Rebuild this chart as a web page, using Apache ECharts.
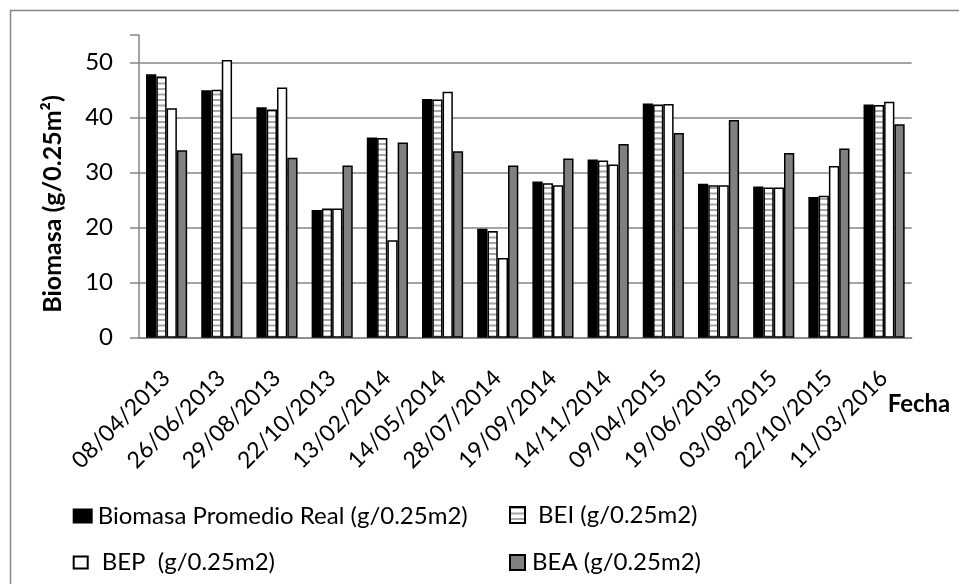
<!DOCTYPE html>
<html>
<head>
<meta charset="utf-8">
<script src="https://cdn.jsdelivr.net/npm/echarts@6/dist/echarts.min.js"></script>
<style>
html,body{margin:0;padding:0;background:#fff;}
#chart{width:959px;height:584px;}
</style>
</head>
<body>
<div id="chart"></div>
<script>
const categories = ['08/04/2013','26/06/2013','29/08/2013','22/10/2013','13/02/2014','14/05/2014','28/07/2014','19/09/2014','14/11/2014','09/04/2015','19/06/2015','03/08/2015','22/10/2015','11/03/2016'];
const realValues = [47.9, 45.0, 41.9, 23.2, 36.4, 43.4, 19.8, 28.4, 32.4, 42.6, 28.0, 27.5, 25.6, 42.4];
const beiValues  = [47.5, 45.1, 41.5, 23.5, 36.3, 43.3, 19.4, 28.1, 32.2, 42.4, 27.7, 27.3, 25.8, 42.3];
const bepValues  = [41.7, 50.5, 45.5, 23.5, 17.7, 44.7, 14.5, 27.7, 31.5, 42.5, 27.7, 27.3, 31.2, 42.9];
const beaValues  = [34.1, 33.5, 32.7, 31.3, 35.5, 33.9, 31.3, 32.6, 35.2, 37.2, 39.6, 33.6, 34.4, 38.8];
const yTicks = [0, 10, 20, 30, 40, 50];
const seriesNames = ['Biomasa Promedio Real (g/0.25m2)', 'BEI (g/0.25m2)', 'BEP  (g/0.25m2)', 'BEA (g/0.25m2)'];

const FONT = 'Lato, "Open Sans", sans-serif';

// striped fill for BEI
const pc = document.createElement('canvas');
pc.width = 4; pc.height = 11;
const pctx = pc.getContext('2d');
pctx.fillStyle = '#ffffff';
pctx.fillRect(0, 0, 4, 11);
pctx.fillStyle = '#a6a6a6';
pctx.fillRect(0, 0, 4, 2);
pctx.fillRect(0, 5.5, 4, 2);
const stripe = { image: pc, repeat: 'repeat' };

const chart = echarts.init(document.getElementById('chart'), null, { renderer: 'canvas' });

function legendAt(name, left, top, w, h, padLeft) {
  return {
    data: [name], left: left, top: top, padding: 0,
    itemWidth: w, itemHeight: h, icon: 'rect', selectedMode: false,
    textStyle: { fontFamily: FONT, fontSize: 24, color: '#000', padding: [0, 0, 0, padLeft], lineHeight: 28 }
  };
}

const option = {
  backgroundColor: '#fff',
  animation: false,
  grid: { left: 139, right: 47.3, top: 35.2, bottom: 246.3, containLabel: false },
  legend: [
    legendAt(seriesNames[0], 72.7, 502, 20, 15, 0),
    legendAt(seriesNames[1], 509, 501, 15, 16, 8),
    legendAt(seriesNames[2], 72.7, 548.5, 14, 12, 9),
    legendAt(seriesNames[3], 509, 548.5, 15, 15, 2)
  ],
  xAxis: {
    type: 'category',
    data: categories,
    axisLine: { show: true, lineStyle: { color: '#868686', width: 1.5 } },
    axisTick: { show: false },
    axisLabel: {
      rotate: 45, interval: 0, margin: 20, align: 'right', verticalAlign: 'top',
      padding: [0, 12, 0, 0],
      fontFamily: FONT, fontSize: 23, color: '#000'
    },
    splitLine: { show: false }
  },
  yAxis: {
    type: 'value', min: 0, max: 55, interval: 10,
    axisLine: { show: true, lineStyle: { color: '#868686', width: 1.5 } },
    axisTick: { show: true, length: 9, lineStyle: { color: '#868686', width: 1.5 } },
    axisLabel: {
      margin: 26, fontFamily: FONT, fontSize: 24, color: '#000',
      formatter: function (v) { return yTicks.indexOf(v) >= 0 ? String(v) : ''; }
    },
    splitLine: { show: true, showMaxLine: false, lineStyle: { color: '#868686', width: 1.5 } }
  },
  series: [
    { name: seriesNames[0], type: 'bar', data: realValues, barGap: '0%', barCategoryGap: '25.5%',
      itemStyle: { color: '#000000', borderColor: '#000', borderWidth: 0 } },
    { name: seriesNames[1], type: 'bar', data: beiValues, barGap: '0%', barCategoryGap: '25.5%',
      itemStyle: { color: stripe, borderColor: '#000', borderWidth: 1.5 } },
    { name: seriesNames[2], type: 'bar', data: bepValues, barGap: '0%', barCategoryGap: '25.5%',
      itemStyle: { color: '#ffffff', borderColor: '#000', borderWidth: 1.5 } },
    { name: seriesNames[3], type: 'bar', data: beaValues, barGap: '0%', barCategoryGap: '25.5%',
      itemStyle: { color: '#808080', borderColor: '#000', borderWidth: 1.5 } }
  ],
  graphic: [
    { type: 'rect', left: 8, top: 8, silent: true, z: -1,
      shape: { x: 0, y: 0, width: 1000, height: 1000 },
      style: { fill: 'none', stroke: '#868686', lineWidth: 1.5 } },
    { type: 'text', x: 53, y: 204, rotation: Math.PI / 2,
      style: { text: 'Biomasa (g/0.25m²)', fontFamily: FONT, fontWeight: 'bold', fontSize: 25,
               fill: '#000', align: 'center', verticalAlign: 'middle' } },
    { type: 'text', x: 919, y: 404,
      style: { text: 'Fecha', fontFamily: FONT, fontWeight: 'bold', fontSize: 24,
               fill: '#000', align: 'center', verticalAlign: 'middle' } }
  ]
};
chart.setOption(option);
</script>
</body>
</html>
